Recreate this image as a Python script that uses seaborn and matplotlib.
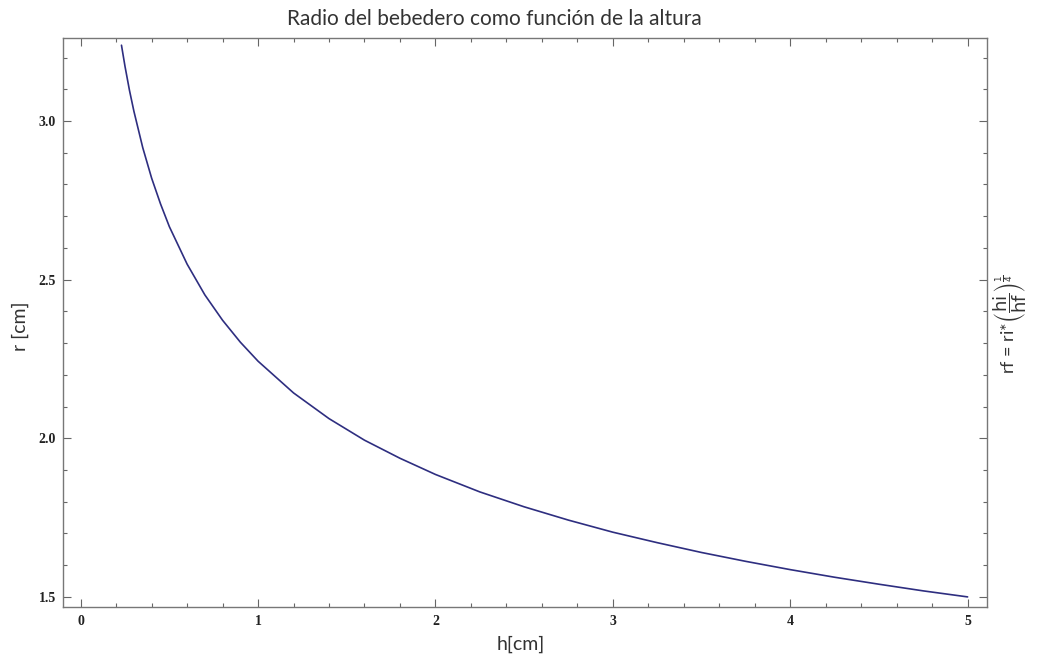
import matplotlib
matplotlib.use("Agg")
import matplotlib.pyplot as plt
import seaborn as sns
import pandas as pd
from matplotlib.ticker import MultipleLocator

# Data
h_cm = [0.23, 0.25, 0.275, 0.30, 0.35, 0.40, 0.45, 0.50, 0.60, 0.70, 0.80, 0.90,
        1.00, 1.20, 1.40, 1.60, 1.80, 2.00, 2.25, 2.50, 2.75, 3.00, 3.25, 3.50,
        3.75, 4.00, 4.25, 4.50, 4.75, 5.00]
r_cm = [3.239, 3.172, 3.097, 3.031, 2.916, 2.820, 2.739, 2.667, 2.549, 2.452, 2.372, 2.303,
        2.243, 2.143, 2.062, 1.994, 1.937, 1.886, 1.831, 1.784, 1.742, 1.704, 1.671, 1.640,
        1.612, 1.586, 1.562, 1.540, 1.519, 1.500]
x_ticks = [0, 1, 2, 3, 4, 5]
y_ticks = [1.5, 2.0, 2.5, 3.0]
y_tick_labels = ["1.5", "2.0", "2.5", "3.0"]

title = "Radio del bebedero como función de la altura"
xlabel = "h[cm]"
ylabel = "r [cm]"

sns.set_theme(style="white")
plt.rcParams['font.family'] = ['Lato', 'DejaVu Sans']

df = pd.DataFrame({"h": h_cm, "r": r_cm})

fig = plt.figure(figsize=(10.49, 6.62), dpi=100)
ax = fig.add_axes([0.060, 0.083, 0.881, 0.8597])

sns.lineplot(data=df, x="h", y="r", ax=ax, color="#2e2e80", linewidth=1.2, sort=False)

ax.set_xlim(-0.10, 5.11)
ax.set_ylim(1.468, 3.262)
ax.set_xticks(x_ticks)
ax.set_yticks(y_ticks)
ax.set_yticklabels(y_tick_labels)
ax.xaxis.set_minor_locator(MultipleLocator(0.2))
ax.yaxis.set_minor_locator(MultipleLocator(0.1))
ax.tick_params(which="both", direction="in", top=True, right=True, bottom=True, left=True,
               color="#666666", width=0.8)
ax.tick_params(which="major", length=6)
ax.tick_params(which="minor", length=3)
for lab in ax.get_xticklabels() + ax.get_yticklabels():
    lab.set_fontfamily("Liberation Serif")
    lab.set_fontweight("bold")
    lab.set_fontsize(10)
    lab.set_color("#222222")
ax.tick_params(axis="x", pad=6)
ax.tick_params(axis="y", pad=5)

for sp in ax.spines.values():
    sp.set_color("#777777")
    sp.set_linewidth(1.0)

ax.set_xlabel("")
ax.set_ylabel("")
fig.text(0.471, 0.972, title, ha="center", va="center", fontsize=15, color="#333333")
fig.text(0.496, 0.026, xlabel, ha="center", va="center", fontsize=14, color="#333333")
fig.text(0.019, 0.507, ylabel, ha="center", va="center", rotation=90, fontsize=14, color="#333333")
fig.text(0.963, 0.51, r"rf = ri*$\left(\dfrac{\mathrm{hi}}{\mathrm{hf}}\right)^{\frac{1}{4}}$",
         ha="center", va="center", rotation=90, fontsize=13, color="#333333")

fig.savefig("out.png", dpi=100)
